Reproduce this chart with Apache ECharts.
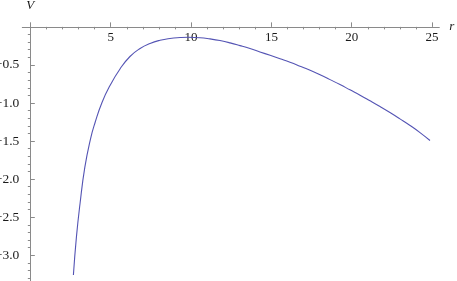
<!DOCTYPE html>
<html>
<head>
<meta charset="utf-8">
<script src="https://cdn.jsdelivr.net/npm/echarts@6/dist/echarts.min.js"></script>
<style>
html,body{margin:0;padding:0;background:#fff;}
#chart{width:457px;height:281px;}
</style>
</head>
<body>
<div id="chart"></div>
<script>
// Curve samples
const rValues = [2.68, 2.87, 3.09, 3.39, 3.75, 4.03, 4.46, 4.96, 5.58, 6.20, 6.83, 7.45, 8.07, 8.69, 9.32, 9.81, 10.56, 11.18, 11.80, 12.43, 13.05, 13.67, 14.29, 14.92, 15.54, 16.16, 16.78, 17.41, 18.03, 18.65, 19.27, 19.89, 20.52, 21.14, 21.76, 22.38, 23.00, 23.63, 24.25, 24.87];
const vValues = [-3.260, -2.756, -2.327, -1.847, -1.467, -1.256, -0.993, -0.770, -0.553, -0.389, -0.284, -0.218, -0.176, -0.152, -0.140, -0.136, -0.142, -0.158, -0.180, -0.210, -0.246, -0.285, -0.329, -0.374, -0.419, -0.465, -0.516, -0.570, -0.629, -0.693, -0.758, -0.827, -0.897, -0.971, -1.047, -1.126, -1.209, -1.296, -1.389, -1.493];

// Tick labels and tick positions
const xMajorTicks = [5, 10, 15, 20, 25];
const xMinorTicks = [1, 2, 3, 4, 6, 7, 8, 9, 11, 12, 13, 14, 16, 17, 18, 19, 21, 22, 23, 24];
const yMajorTicks = [-3.0, -2.5, -2.0, -1.5, -1.0, -0.5];
const yMinorTicks = [-3.3, -3.2, -3.1, -2.9, -2.8, -2.7, -2.6, -2.4, -2.3, -2.2, -2.1, -1.9, -1.8, -1.7, -1.6, -1.4, -1.3, -1.2, -1.1, -0.9, -0.8, -0.7, -0.6, -0.4, -0.3, -0.2, -0.1];
const xName = 'r';
const yName = 'V';

const AXIS_COLOR = '#8a8a8a';
const TEXT_COLOR = '#1a1a1a';
const FONT = "'Liberation Serif', 'DejaVu Serif', serif";
const X_MIN = -0.5, X_MAX = 25.45, Y_MIN = -3.5, Y_MAX = 0.055;

const chart = echarts.init(document.getElementById('chart'), null, {renderer: 'canvas'});
const fmtY = v => (v < 0 ? '\u2212' : '') + Math.abs(v).toFixed(1);

chart.setOption({
  animation: false,
  backgroundColor: '#ffffff',
  grid: {left: 22.3, right: 17.7, top: 22.7, bottom: -12.25, containLabel: false, outerBoundsMode: 'none'},
  xAxis: [
    {
      type: 'value', min: X_MIN, max: X_MAX,
      name: xName, nameLocation: 'end', nameGap: 10,
      nameTextStyle: {fontFamily: FONT, fontStyle: 'italic', fontSize: 13, color: TEXT_COLOR},
      axisLine: {show: true, onZero: true, lineStyle: {color: AXIS_COLOR, width: 1}},
      axisTick: {show: true, inside: true, length: 4.5, customValues: xMajorTicks, lineStyle: {color: AXIS_COLOR}},
      axisLabel: {show: false},
      splitLine: {show: false}
    },
    {
      type: 'value', min: X_MIN, max: X_MAX,
      axisLine: {show: false, onZero: true, onZeroAxisIndex: 0},
      axisTick: {show: true, inside: true, length: 2.5, customValues: xMinorTicks, lineStyle: {color: AXIS_COLOR}},
      axisLabel: {show: false},
      splitLine: {show: false}
    },
    {
      type: 'value', min: X_MIN, max: X_MAX, position: 'top',
      axisLine: {show: false, onZero: false},
      axisTick: {show: false},
      axisLabel: {show: true, inside: true, customValues: xMajorTicks, margin: 8, fontFamily: FONT, fontSize: 13, color: TEXT_COLOR},
      splitLine: {show: false}
    }
  ],
  yAxis: [
    {
      type: 'value', min: Y_MIN, max: Y_MAX,
      name: yName, nameLocation: 'end', nameGap: 11,
      nameTextStyle: {fontFamily: FONT, fontStyle: 'italic', fontSize: 13, color: TEXT_COLOR},
      axisLine: {show: true, onZero: true, lineStyle: {color: AXIS_COLOR, width: 1}},
      axisTick: {show: true, inside: true, length: 4.5, customValues: yMajorTicks, lineStyle: {color: AXIS_COLOR}},
      axisLabel: {show: true, customValues: yMajorTicks, margin: 3, formatter: fmtY, fontFamily: FONT, fontSize: 13.5, color: TEXT_COLOR},
      splitLine: {show: false}
    },
    {
      type: 'value', min: Y_MIN, max: Y_MAX,
      axisLine: {show: false, onZero: true, onZeroAxisIndex: 0},
      axisTick: {show: true, inside: true, length: 2.5, customValues: yMinorTicks, lineStyle: {color: AXIS_COLOR}},
      axisLabel: {show: false},
      splitLine: {show: false}
    }
  ],
  series: [{
    type: 'line',
    xAxisIndex: 0, yAxisIndex: 0,
    data: rValues.map((r, i) => [r, vValues[i]]),
    showSymbol: false,
    smooth: 0.5,
    lineStyle: {color: '#5454b4', width: 1.1},
    silent: true
  }]
});
</script>
</body>
</html>
